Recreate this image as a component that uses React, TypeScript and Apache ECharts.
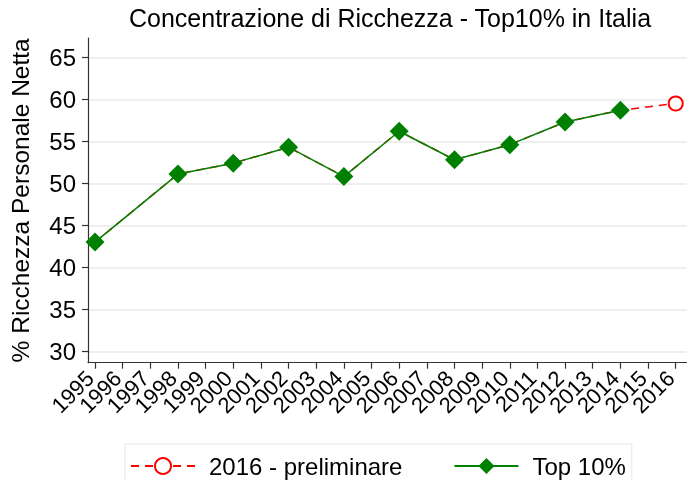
import React, { useEffect, useRef } from "react";
import * as echarts from "echarts";

const years = ["1995","1996","1997","1998","1999","2000","2001","2002","2003","2004","2005","2006","2007","2008","2009","2010","2011","2012","2013","2014","2015","2016"];
const top10Years = ["1995", "1998", "2000", "2002", "2004", "2006", "2008", "2010", "2012", "2014"];
const top10Values = [43.0, 51.1, 52.4, 54.3, 50.8, 56.2, 52.8, 54.6, 57.3, 58.7];
const prelimYears = ["2016"];
const prelimValues = [59.5];
const yTicks = [30, 35, 40, 45, 50, 55, 60, 65];

const FONT = "'Liberation Sans', Arial, sans-serif";
const Y_MIN = 28.64;
const Y_MAX = 67.3;

export default function App() {
  const ref = useRef<HTMLDivElement>(null);
  useEffect(() => {
    if (!ref.current) return;
    const chart = echarts.init(ref.current, null, { renderer: "svg" });
    const greenData = top10Years.map((y, i) => [y, top10Values[i]]);
    const allYears = top10Years.concat(prelimYears);
    const allVals = top10Values.concat(prelimValues);
    const redData = allYears.map((y, i) => ({
      value: [y, allVals[i]],
      symbol: i === allYears.length - 1 ? "emptyCircle" : "none",
    }));
    chart.setOption({
      animation: false,
      textStyle: { fontFamily: FONT },
      title: {
        text: "Concentrazione di Ricchezza - Top10% in Italia",
        left: 385,
        textAlign: "center",
        top: 0,
        textStyle: { fontSize: 25, fontWeight: "normal", color: "#000", fontFamily: FONT },
      },
      grid: [
        { left: 83.5, right: 1.5, top: 38, bottom: 117.3, containLabel: false },
        { left: 95, right: 12.3, top: 38, bottom: 117.3, containLabel: false },
      ],
      legend: {
        left: 125,
        top: 444,
        padding: [10, 6, 10, 5],
        borderColor: "#e6e6e6",
        borderWidth: 1,
        itemWidth: 64,
        itemHeight: 20,
        itemGap: 51,
        textStyle: { fontSize: 24, color: "#000", fontFamily: FONT, padding: [0, 0, 0, 9] },
        data: ["2016 - preliminare", "Top 10%"],
      },
      xAxis: [
        {
          type: "value",
          gridIndex: 0,
          min: 0,
          max: 1,
          axisLine: { show: true, lineStyle: { color: "#333", width: 1.2 } },
          axisTick: { show: false },
          axisLabel: { show: false },
          splitLine: { show: false },
        },
        {
          type: "category",
          gridIndex: 1,
          data: years,
          boundaryGap: false,
          axisLine: { show: false },
          axisTick: { show: true, alignWithLabel: true, interval: 0, length: 6, lineStyle: { color: "#333", width: 1.2 } },
          axisLabel: {
            interval: 0,
            rotate: 45,
            margin: 7,
            fontSize: 22,
            color: "#000",
            fontFamily: FONT,
            padding: [0, 7, 0, 0],
          },
          splitLine: { show: false },
        },
      ],
      yAxis: [
        {
          type: "value",
          gridIndex: 0,
          min: Y_MIN,
          max: Y_MAX,
          name: "% Ricchezza Personale Netta",
          nameLocation: "middle",
          nameRotate: 90,
          nameGap: 55,
          nameTextStyle: { fontSize: 24.5, color: "#000", fontFamily: FONT },
          axisLine: { show: true, lineStyle: { color: "#333", width: 1.2 } },
          axisTick: { show: true, length: 6, lineStyle: { color: "#333", width: 1.2 }, customValues: yTicks },
          axisLabel: { customValues: yTicks, margin: 12, fontSize: 24, color: "#000", fontFamily: FONT },
          splitLine: { show: true, lineStyle: { color: "#e8e8e8", width: 1.5 } },
        },
        {
          type: "value",
          gridIndex: 1,
          min: Y_MIN,
          max: Y_MAX,
          show: false,
        },
      ],
      series: [
        {
          name: "2016 - preliminare",
          type: "line",
          xAxisIndex: 1,
          yAxisIndex: 1,
          data: redData,
          symbol: "emptyCircle",
          symbolSize: 14,
          lineStyle: { color: "#ff0000", width: 1.5, type: [8, 6] },
          itemStyle: { color: "#ff0000", borderColor: "#ff0000", borderWidth: 1.5 },
          z: 2,
        },
        {
          name: "Top 10%",
          type: "line",
          xAxisIndex: 1,
          yAxisIndex: 1,
          data: greenData,
          symbol: "diamond",
          symbolSize: 19,
          lineStyle: { color: "#008000", width: 1.5 },
          itemStyle: { color: "#008000" },
          z: 3,
        },
      ],
    });
    return () => chart.dispose();
  }, []);
  return <div ref={ref} style={{ position: "fixed", left: 0, top: 0, width: 688, height: 480 }} />;
}
